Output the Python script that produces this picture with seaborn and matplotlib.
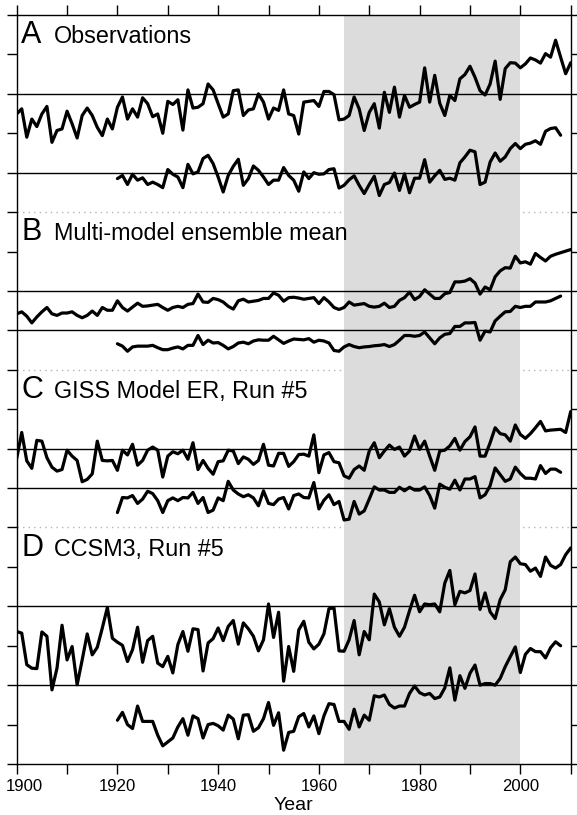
import numpy as np
import pandas as pd
import matplotlib
matplotlib.use("Agg")
import matplotlib.pyplot as plt
import matplotlib.transforms as mtransforms
import seaborn as sns

# ---------------- data (anomalies, in tick-interval units) ----------------
years_full = list(range(1900, 2011))   # 111 years
years_short = list(range(1920, 2009))  # 89 years

obs_upper = [
    -0.51, -0.38, -1.10, -0.64, -0.83, -0.51, -0.32, -1.23, -0.93, -0.89,
    -0.44, -0.76, -1.12, -0.55, -0.36, -0.55, -0.85, -1.06, -0.64, -0.89,
    -0.34, -0.08, -0.64, -0.38, -0.59, -0.10, -0.25, -0.58, -0.51, -1.00,
    -0.19, -0.27, -0.15, -0.92, 0.10, -0.36, -0.34, -0.25, 0.25, 0.10,
    -0.25, -0.59, -0.51, 0.08, 0.10, -0.55, -0.41, -0.38, 0.00, -0.21,
    -0.64, -0.36, -0.42, 0.10, -0.51, -0.55, -1.02, -0.21, -0.19, -0.17,
    -0.32, 0.06, 0.06, -0.02, -0.66, -0.64, -0.55, -0.08, -0.38, -0.93,
    -0.47, -0.25, -0.87, 0.04, -0.47, 0.17, -0.59, -0.04, -0.34, -0.27,
    -0.21, 0.66, -0.21, 0.47, -0.24, -0.55, -0.04, -0.17, 0.38, 0.49,
    0.70, 0.42, 0.08, -0.03, 0.25, 0.83, -0.14, 0.64, 0.79, 0.78,
    0.66, 0.76, 0.91, 0.86, 0.78, 1.02, 0.93, 1.36, 0.93, 0.51, 0.79]
obs_lower = [
    -0.15, -0.07, -0.30, -0.04, -0.19, -0.13, -0.30, -0.24, -0.30, -0.38,
    0.08, -0.04, -0.11, -0.38, 0.21, -0.03, 0.02, 0.36, 0.44, 0.23,
    -0.11, -0.49, -0.07, 0.16, 0.34, -0.32, -0.15, 0.17, 0.06, -0.11,
    -0.30, -0.19, -0.19, 0.13, -0.07, -0.19, -0.47, 0.02, -0.15, 0.00,
    -0.04, -0.03, 0.08, 0.10, -0.39, -0.32, -0.18, -0.08, -0.32, -0.53,
    -0.30, -0.09, -0.58, -0.30, -0.25, -0.01, -0.45, -0.03, -0.51, -0.14,
    -0.14, 0.33, -0.24, -0.08, 0.06, -0.17, -0.14, -0.19, 0.25, 0.40,
    0.57, 0.53, -0.30, -0.24, 0.27, 0.50, 0.29, 0.40, 0.61, 0.74,
    0.61, 0.72, 0.75, 0.81, 0.72, 1.05, 1.12, 1.14, 0.95]

mme_upper = [
    -0.58, -0.53, -0.64, -0.81, -0.66, -0.53, -0.42, -0.58, -0.62, -0.56,
    -0.56, -0.53, -0.62, -0.68, -0.62, -0.51, -0.62, -0.42, -0.49, -0.49,
    -0.25, -0.42, -0.51, -0.41, -0.31, -0.39, -0.38, -0.36, -0.34, -0.42,
    -0.49, -0.42, -0.39, -0.42, -0.34, -0.32, -0.08, -0.28, -0.29, -0.19,
    -0.22, -0.28, -0.39, -0.46, -0.25, -0.21, -0.28, -0.26, -0.24, -0.19,
    -0.19, -0.05, -0.11, -0.26, -0.17, -0.16, -0.18, -0.21, -0.19, -0.17,
    -0.32, -0.17, -0.28, -0.42, -0.47, -0.42, -0.28, -0.36, -0.34, -0.32,
    -0.39, -0.41, -0.39, -0.31, -0.42, -0.39, -0.24, -0.17, -0.03, -0.22,
    -0.14, 0.03, -0.08, -0.19, -0.19, -0.07, -0.04, 0.23, 0.23, 0.25,
    0.31, 0.20, -0.08, 0.10, 0.03, 0.36, 0.51, 0.59, 0.58, 0.88,
    0.71, 0.74, 0.68, 0.95, 0.85, 0.76, 0.88, 0.93, 0.97, 1.01, 1.05]
mme_lower = [
    -0.34, -0.40, -0.53, -0.42, -0.40, -0.40, -0.40, -0.38, -0.44, -0.49,
    -0.49, -0.45, -0.42, -0.47, -0.38, -0.38, -0.13, -0.36, -0.25, -0.32,
    -0.31, -0.38, -0.47, -0.41, -0.32, -0.30, -0.34, -0.27, -0.24, -0.25,
    -0.25, -0.15, -0.24, -0.33, -0.27, -0.22, -0.23, -0.24, -0.21, -0.30,
    -0.25, -0.27, -0.32, -0.51, -0.53, -0.42, -0.36, -0.41, -0.44, -0.42,
    -0.41, -0.39, -0.38, -0.36, -0.41, -0.36, -0.25, -0.13, -0.13, -0.15,
    -0.13, -0.04, -0.19, -0.34, -0.19, -0.10, -0.08, 0.10, 0.10, 0.19,
    0.19, 0.20, -0.25, -0.02, -0.04, 0.24, 0.36, 0.47, 0.48, 0.61,
    0.58, 0.61, 0.61, 0.72, 0.72, 0.72, 0.75, 0.81, 0.87]

giss_upper = [
    -0.25, 0.41, -0.31, -0.50, 0.21, 0.19, -0.23, -0.47, -0.57, -0.53,
    -0.04, -0.19, -0.30, -0.84, -0.78, -0.64, 0.19, -0.30, -0.31, -0.30,
    -0.55, -0.04, -0.16, 0.11, -0.42, -0.30, -0.04, 0.04, -0.04, -0.72,
    -0.19, -0.08, -0.13, -0.04, -0.27, 0.15, -0.53, -0.30, -0.50, -0.65,
    -0.33, -0.31, -0.04, -0.06, -0.38, -0.21, -0.27, -0.40, -0.30, 0.11,
    -0.42, -0.44, -0.12, -0.12, -0.45, -0.33, -0.15, -0.14, -0.19, 0.35,
    -0.61, -0.16, -0.10, -0.33, -0.36, -0.69, -0.75, -0.53, -0.44, -0.55,
    -0.06, 0.15, -0.23, -0.06, 0.09, -0.02, 0.04, -0.19, -0.06, 0.32,
    -0.02, 0.19, -0.19, -0.55, -0.06, -0.04, 0.07, 0.26, -0.04, 0.18,
    0.30, 0.55, -0.19, -0.19, 0.15, 0.53, 0.38, 0.35, 0.19, 0.60,
    0.36, 0.26, 0.38, 0.53, 0.69, 0.45, 0.47, 0.48, 0.49, 0.41, 0.94]
giss_lower = [
    -0.62, -0.24, -0.25, -0.19, -0.39, -0.28, -0.08, -0.14, -0.32, -0.62,
    -0.32, -0.25, -0.32, -0.24, -0.25, -0.11, -0.39, -0.24, -0.62, -0.56,
    -0.25, -0.32, 0.17, -0.05, -0.15, -0.22, -0.17, -0.25, -0.45, -0.07,
    -0.39, -0.42, -0.28, -0.24, -0.53, -0.19, -0.15, -0.24, -0.25, 0.14,
    -0.53, -0.31, -0.17, -0.42, -0.34, -0.81, -0.79, -0.34, -0.66, -0.58,
    -0.28, 0.03, -0.05, -0.05, -0.11, -0.11, 0.02, -0.07, 0.02, -0.05,
    -0.05, 0.03, -0.19, -0.51, 0.10, 0.02, -0.03, 0.20, -0.05, 0.23,
    0.23, 0.29, -0.25, -0.17, 0.06, 0.51, 0.34, 0.17, 0.23, 0.53,
    0.37, 0.25, 0.25, 0.23, 0.57, 0.37, 0.48, 0.48, 0.40]

ccsm_upper = [
    -0.64, -0.68, -1.48, -1.57, -1.58, -0.65, -0.76, -2.12, -1.57, -0.48,
    -1.36, -1.02, -1.99, -1.36, -0.70, -1.23, -1.04, -0.55, -0.03, -0.81,
    -0.91, -0.99, -1.40, -1.10, -0.53, -1.42, -0.87, -0.76, -1.44, -1.53,
    -1.27, -1.69, -0.97, -0.64, -1.14, -0.57, -0.59, -1.64, -0.93, -0.82,
    -0.55, -0.87, -0.51, -0.36, -0.96, -0.42, -0.57, -0.76, -1.13, -0.85,
    0.06, -0.79, -0.15, -1.90, -1.02, -1.65, -0.60, -0.38, -0.91, -1.08,
    -0.96, -0.70, -0.06, -0.04, -1.13, -1.14, -0.85, -0.36, -1.23, -0.64,
    -0.85, 0.31, 0.11, -0.47, -0.06, -0.53, -0.76, -0.53, -0.11, 0.28,
    -0.14, 0.06, 0.04, 0.06, -0.14, 0.59, 0.91, 0.04, 0.38, 0.34,
    0.40, 0.82, -0.08, 0.34, -0.14, -0.31, 0.17, 0.42, 1.13, 1.25,
    1.08, 1.06, 0.89, 0.97, 0.76, 1.25, 1.04, 0.97, 1.06, 1.31, 1.48]
ccsm_lower = [
    -0.89, -0.69, -1.00, -1.10, -0.53, -0.92, -0.92, -0.92, -1.27, -1.54,
    -1.44, -1.34, -1.06, -0.85, -1.27, -0.78, -0.85, -1.34, -1.00, -0.97,
    -1.03, -1.14, -0.76, -0.86, -1.36, -0.76, -0.75, -1.17, -1.08, -0.85,
    -0.44, -1.02, -0.70, -1.65, -1.20, -1.17, -0.80, -0.72, -1.06, -0.78,
    -1.23, -0.78, -0.47, -0.49, -0.92, -0.92, -1.12, -0.61, -1.06, -0.76,
    -0.89, -0.27, -0.30, -0.25, -0.49, -0.58, -0.53, -0.53, -0.21, -0.02,
    -0.19, -0.25, -0.21, -0.34, -0.30, -0.07, 0.44, -0.38, 0.24, -0.08,
    0.30, 0.51, 0.00, 0.04, 0.04, 0.00, 0.17, 0.47, 0.72, 0.97,
    0.32, 0.78, 0.93, 0.85, 0.85, 0.69, 0.95, 1.10, 1.00]

panel_titles = ["Observations", "Multi-model ensemble mean",
                "GISS Model ER, Run #5", "CCSM3, Run #5"]
panel_letters = ["A", "B", "C", "D"]
x_tick_years = list(range(1900, 2011, 10))
x_tick_labels = [str(y) if y % 20 == 0 else "" for y in x_tick_years]

# ---------------- layout (offsets of each curve on the stacked axis) -----
series = [
    ("obs_u", years_full, obs_upper, 17),
    ("obs_l", years_short, obs_lower, 15),
    ("mme_u", years_full, mme_upper, 12),
    ("mme_l", years_short, mme_lower, 11),
    ("giss_u", years_full, giss_upper, 8),
    ("giss_l", years_short, giss_lower, 7),
    ("ccsm_u", years_full, ccsm_upper, 4),
    ("ccsm_l", years_short, ccsm_lower, 2),
]
panel_tops = [19, 14, 10, 6]
separators = [14, 10, 6]

frames = []
for name, yrs, vals, base in series:
    frames.append(pd.DataFrame({"year": yrs, "value": vals,
                                "series": name, "base": base}))
df = pd.concat(frames, ignore_index=True)
df["ypos"] = df["value"] + df["base"]

# ---------------- drawing ----------------
sns.set_style("ticks")
plt.rcParams["font.family"] = ["Liberation Sans", "DejaVu Sans"]
plt.rcParams["text.color"] = "black"
plt.rcParams["axes.labelcolor"] = "black"
plt.rcParams["xtick.color"] = "black"
plt.rcParams["ytick.color"] = "black"
plt.rcParams["xtick.labelcolor"] = "black"

fig = plt.figure(figsize=(5.77, 8.15), dpi=100)
ax = fig.add_axes([16.7 / 577, 1 - 764 / 815, (570.7 - 16.7) / 577, (764 - 15) / 815])

for s in separators:
    ax.axhline(s, color="#b4b4b4", lw=1.0, ls=(0, (1, 3)), zorder=0.5)
ax.axvspan(1965, 2000, color="#dcdcdc", lw=0, zorder=1)
for _, _, _, base in series:
    ax.axhline(base, color="black", lw=1.0, zorder=2)

sns.lineplot(data=df, x="year", y="ypos", units="series", estimator=None,
             color="black", linewidth=2.3, sort=False, ax=ax, zorder=3)

for top, letter, title in zip(panel_tops, panel_letters, panel_titles):
    ax.text(1900.9, top - 0.72, letter, fontsize=22, va="baseline", ha="left",
            color="black")
    ax.text(1907.4, top - 0.72, title, fontsize=16.8, va="baseline", ha="left",
            color="black")

ax.set_xlim(1900, 2010)
ax.set_ylim(0, 19)
ax.set_xticks(x_tick_years)
ax.set_xticklabels(x_tick_labels, fontsize=12, color="black")
ax.set_yticks(range(0, 20))
ax.set_yticklabels([])
ax.tick_params(axis="x", which="both", direction="out", length=7, width=1.0,
               top=True, bottom=True, labeltop=False, pad=4, color="black",
               labelcolor="black")
ax.tick_params(axis="y", which="both", direction="out", length=7, width=1.0,
               left=True, right=True, color="black")
# nudge the first year label inward so it is not cut at the figure edge
first_lab = ax.get_xticklabels()[0]
first_lab.set_transform(first_lab.get_transform() +
                        mtransforms.ScaledTranslation(8 / 100, 0, fig.dpi_scale_trans))
for sp in ax.spines.values():
    sp.set_visible(True)
    sp.set_linewidth(1.0)
    sp.set_color("black")
ax.set_xlabel("Year", fontsize=14, labelpad=2, color="black")
ax.set_ylabel("")

fig.savefig("out.png", dpi=100)
